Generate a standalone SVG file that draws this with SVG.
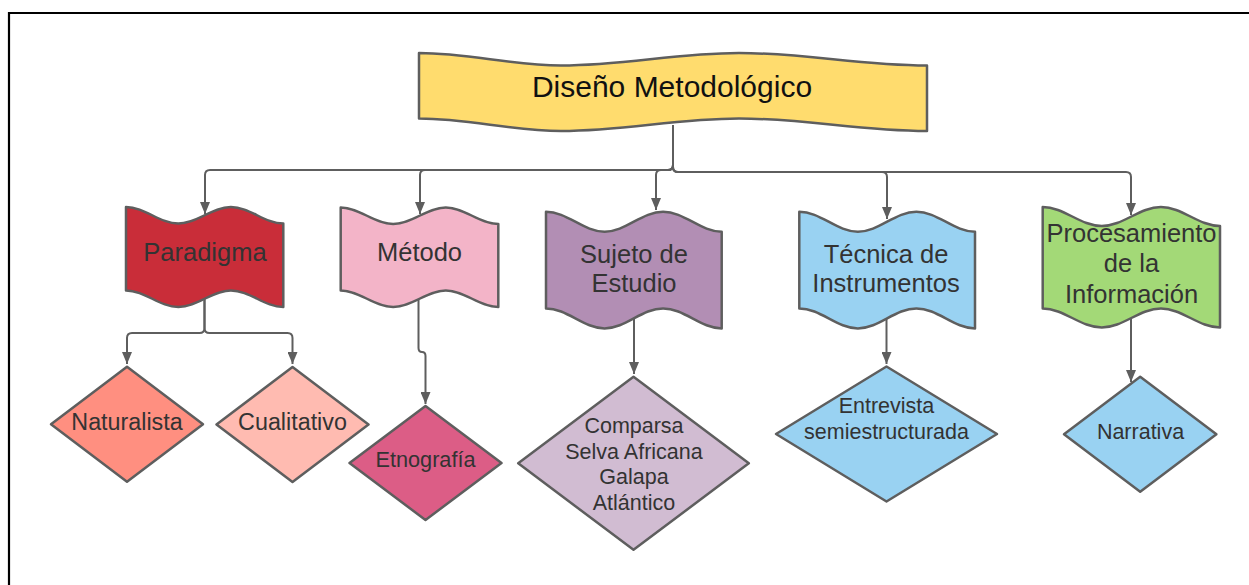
<svg xmlns="http://www.w3.org/2000/svg" width="1249" height="585" viewBox="0 0 1249 585">
<defs>
<style>
.shape{stroke:#5e5e5e;stroke-width:2.5;stroke-linejoin:round}
.dia{stroke:#5e5e5e;stroke-width:2.5;stroke-linejoin:round}
.t{font-family:"Liberation Sans",Arial,sans-serif;fill:#333;text-anchor:middle}
.f{font-size:25.5px}
.d{font-size:21.5px}
.c{fill:none;stroke:#5e5e5e;stroke-width:2}
</style>
<marker id="arr" markerUnits="userSpaceOnUse" viewBox="0 0 12 10" refX="12" refY="5" markerWidth="12" markerHeight="10" orient="auto">
<path d="M0,0 L12,5 L0,10 Z" fill="#5e5e5e"/>
</marker>
</defs>
<rect x="0" y="0" width="1249" height="585" fill="#ffffff"/>
<path d="M9,585 V13 H1249" fill="none" stroke="#000" stroke-width="2.2"/>

<g id="connectors">
<path class="c" d="M673,125 V165 Q673,170 668,170 H210 Q205,170 205,175 V214" marker-end="url(#arr)"/>
<path class="c" d="M673,125 V165 Q673,170 668,170 H425 Q420,170 420,175 V214" marker-end="url(#arr)"/>
<path class="c" d="M673,125 V165 Q673,170 668,170 H661 Q656,170 656,175 V210" marker-end="url(#arr)"/>
<path class="c" d="M673,125 V167 Q673,172 678,172 H882 Q887,172 887,177 V219" marker-end="url(#arr)"/>
<path class="c" d="M673,125 V167 Q673,172 678,172 H1126 Q1131,172 1131,177 V215" marker-end="url(#arr)"/>
<path class="c" d="M204.5,299 V328 Q204.5,333 199.5,333 H132 Q127,333 127,338 V364" marker-end="url(#arr)"/>
<path class="c" d="M204.5,299 V328 Q204.5,333 209.5,333 H287.5 Q292.5,333 292.5,338 V364" marker-end="url(#arr)"/>
<path class="c" d="M418.5,299 V348 Q418.5,352 422,352 Q425.5,352 425.5,356 V404" marker-end="url(#arr)"/>
<path class="c" d="M634,318 V374" marker-end="url(#arr)"/>
<path class="c" d="M886.5,318 V364" marker-end="url(#arr)"/>
<path class="c" d="M1131,318 V382" marker-end="url(#arr)"/>
</g>

<g id="node-diseno">
<path class="shape" fill="#ffdc6e" stroke-width="3" d="M419,53 C470,53 510,65.5 561,65.5 C625,65.5 675,53 739,53 C807,53 859,65.5 927,65.5 L927,131 C859,131 807,118.5 739,118.5 C675,118.5 625,131 561,131 C510,131 470,118.5 419,118.5 Z"/>
<text class="t" x="672" y="97" font-size="30" style="fill:#111">Diseño Metodológico</text>
</g>

<g id="node-paradigma">
<path class="shape" fill="#c92d39" d="M126,207 C144.9,207 159.5,223.5 178.4,223.5 S212,207 230.9,207 S264.4,223.5 283.3,223.5 L283.3,307 C264.4,307 249.8,290.5 230.9,290.5 S197.3,307 178.4,307 S144.9,290.5 126,290.5 Z"/>
<text class="t f" x="205" y="261">Paradigma</text>
</g>

<g id="node-metodo">
<path class="shape" fill="#f3b4c8" d="M340.7,207.5 C359.6,207.5 374.3,224 393.2,224 S426.9,207.5 445.8,207.5 S479.4,224 498.3,224 L498.3,307 C479.4,307 464.7,290.5 445.8,290.5 S412.1,307 393.2,307 S359.6,290.5 340.7,290.5 Z"/>
<text class="t f" x="419.5" y="261">Método</text>
</g>

<g id="node-sujeto">
<path class="shape" fill="#b28eb4" d="M546,211.7 C567.1,211.7 583.5,231.7 604.6,231.7 S642,211.7 663.1,211.7 S700.6,231.7 721.7,231.7 L721.7,328.4 C700.6,328.4 684.2,308.4 663.1,308.4 S625.7,328.4 604.6,328.4 S567.1,308.4 546,308.4 Z"/>
<text class="t f" x="634" y="262.5">Sujeto de</text>
<text class="t f" x="634" y="292">Estudio</text>
</g>

<g id="node-tecnica">
<path class="shape" fill="#99d2f2" d="M799.3,211.7 C820.4,211.7 836.8,231.7 857.9,231.7 S895.3,211.7 916.4,211.7 S953.9,231.7 975,231.7 L975,328.4 C953.9,328.4 937.5,308.4 916.4,308.4 S879,328.4 857.9,328.4 S820.4,308.4 799.3,308.4 Z"/>
<text class="t f" x="886" y="262.5">Técnica de</text>
<text class="t f" x="886" y="292">Instrumentos</text>
</g>

<g id="node-procesamiento">
<path class="shape" fill="#a3d977" d="M1042.7,207 C1064,207 1080.5,226 1101.8,226 S1139.6,207 1160.9,207 S1198.7,226 1220,226 L1220,327.5 C1198.7,327.5 1182.2,308.5 1160.9,308.5 S1123.1,327.5 1101.8,327.5 S1064,308.5 1042.7,308.5 Z"/>
<text class="t f" x="1131.5" y="241.5">Procesamiento</text>
<text class="t f" x="1131.5" y="272">de la</text>
<text class="t f" x="1131.5" y="302.5">Información</text>
</g>

<g id="node-naturalista">
<polygon class="dia" fill="#ff8f80" points="127,366.8 203,424.3 127,481.8 51,424.3"/>
<text class="t" x="127" y="430" font-size="23.3">Naturalista</text>
</g>

<g id="node-cualitativo">
<polygon class="dia" fill="#ffbbb1" points="292.5,367 368.5,424.5 292.5,482 216.5,424.5"/>
<text class="t" x="292.5" y="430" font-size="23.3">Cualitativo</text>
</g>

<g id="node-etnografia">
<polygon class="dia" fill="#dc5d86" points="425.5,406 501.5,463 425.5,520 349.5,463"/>
<text class="t" x="425.5" y="467" font-size="21.7">Etnografía</text>
</g>

<g id="node-comparsa">
<polygon class="dia" fill="#d1bcd2" points="633.5,376.8 748.8,463.3 633.5,549.8 518.2,463.3"/>
<text class="t d" x="634" y="432.5">Comparsa</text>
<text class="t d" x="634" y="458.5">Selva Africana</text>
<text class="t d" x="634" y="484">Galapa</text>
<text class="t d" x="634" y="509.5">Atlántico</text>
</g>

<g id="node-entrevista">
<polygon class="dia" fill="#99d2f2" points="886.5,366.5 997,434 886.5,501.5 776,434"/>
<text class="t d" x="886.5" y="412.5">Entrevista</text>
<text class="t d" x="886.5" y="439">semiestructurada</text>
</g>

<g id="node-narrativa">
<polygon class="dia" fill="#99d2f2" points="1140.2,376.7 1216.4,434.2 1140.2,491.7 1064,434.2"/>
<text class="t d" x="1140.5" y="439">Narrativa</text>
</g>
</svg>
